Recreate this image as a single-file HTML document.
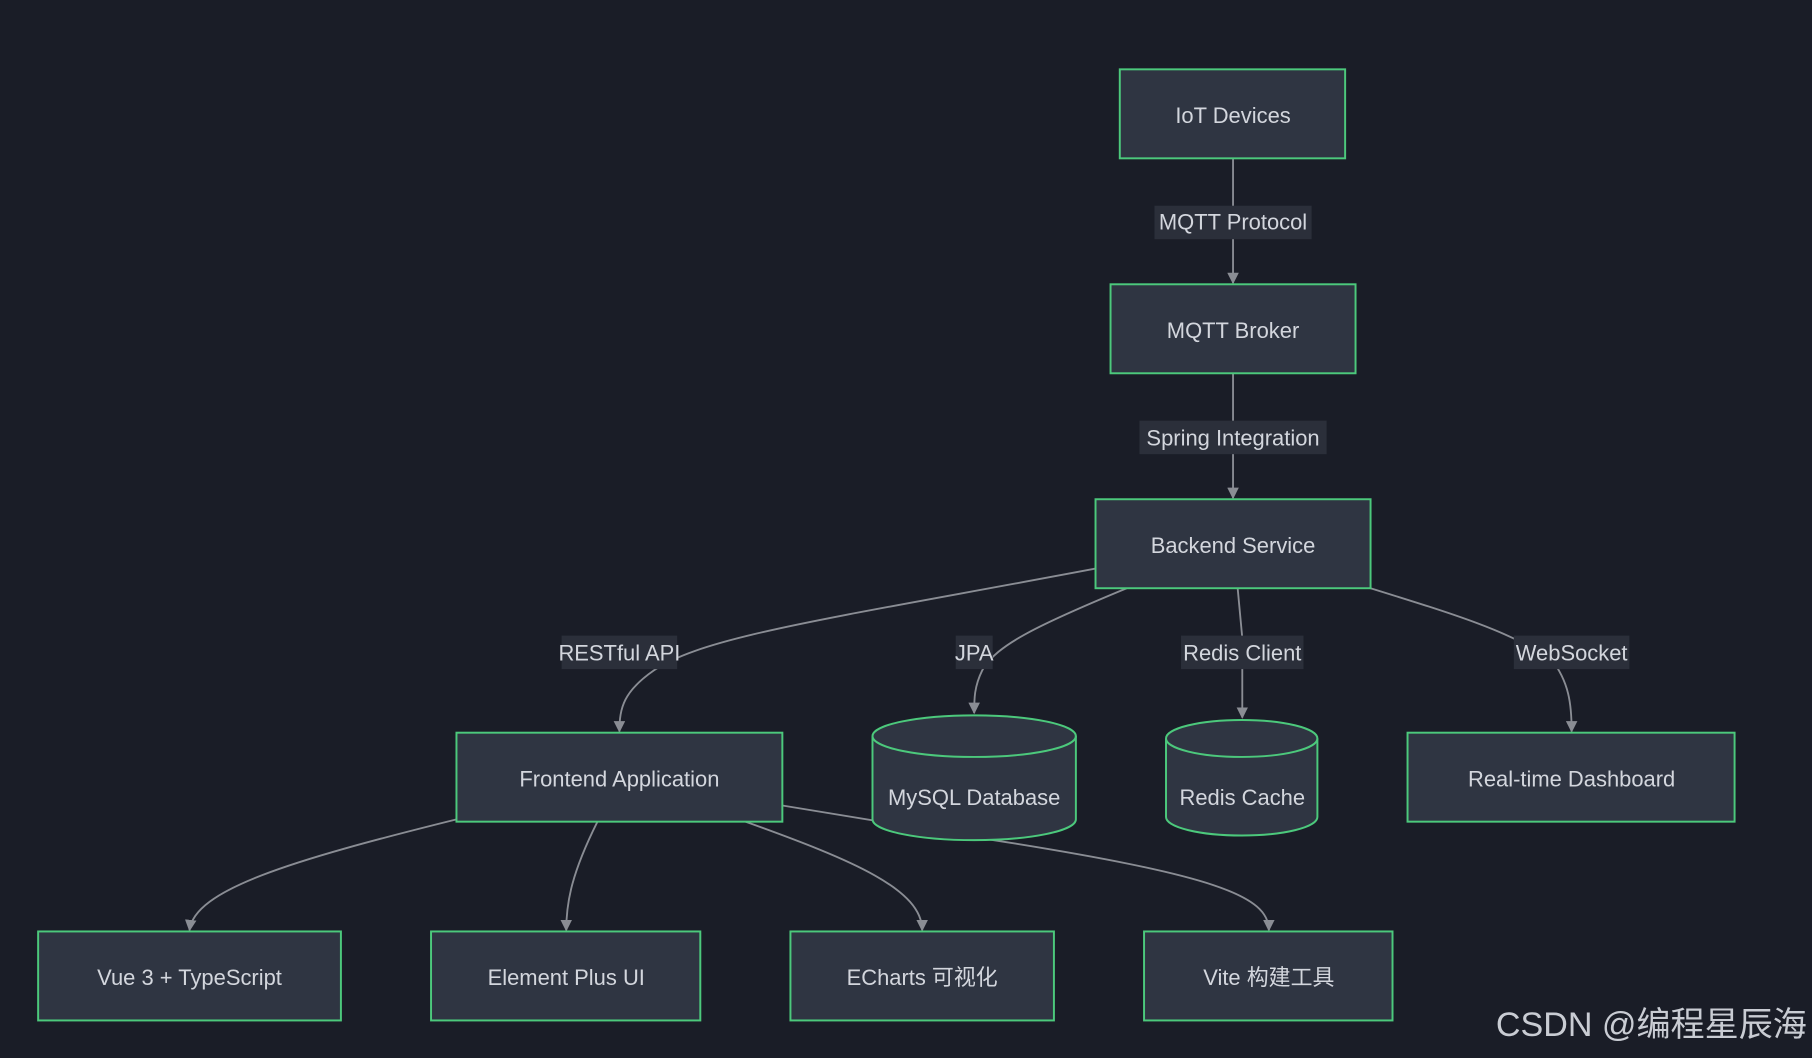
<!DOCTYPE html>
<html><head><meta charset="utf-8"><style>
html,body{margin:0;padding:0;background:#1a1d27;}
svg{display:block}
text{font-family:"Liberation Sans","Noto Sans CJK SC",sans-serif;fill:#d3d6dd;font-size:19px;text-anchor:middle;dominant-baseline:central}
.b{fill:#2f3542;stroke:#4cc97c;stroke-width:1.7}
.e{fill:none;stroke:#8a8d94;stroke-width:1.6}
.l{fill:#2b2f3a}
</style></head><body>
<svg width="1812" height="1058" viewBox="0 0 1568 915.5" preserveAspectRatio="none">
<defs><marker id="a" viewBox="0 0 10 10" refX="9" refY="5" markerWidth="10" markerHeight="10" markerUnits="userSpaceOnUse" orient="auto"><path d="M0,0 L10,5 L0,10z" fill="#8a8d94"/></marker></defs>
<rect width="1568" height="916" fill="#1a1d27"/>
<path class="e" d="M1067,137 L1067,245" marker-end="url(#a)"/>
<path class="e" d="M1067,323 L1067,431" marker-end="url(#a)"/>
<path class="e" d="M948,492 C720,535 610,550 566,580 C540,598 536,612 536,633" marker-end="url(#a)"/>
<path class="e" d="M975,509 C900,540 862,558 850,580 C843,594 843,605 843,617" marker-end="url(#a)"/>
<path class="e" d="M1071,509 L1075,552 L1075,621" marker-end="url(#a)"/>
<path class="e" d="M1186,509 C1260,532 1305,546 1342,570 C1358,590 1360,610 1360,633" marker-end="url(#a)"/>
<path class="e" d="M395,709 C250,745 168,770 164,805" marker-end="url(#a)"/>
<path class="e" d="M517,711 C495,755 490,780 490,805" marker-end="url(#a)"/>
<path class="e" d="M645,711 C740,745 798,770 798,805" marker-end="url(#a)"/>
<path class="e" d="M677,697 L860,727 C1050,757 1098,775 1098,805" marker-end="url(#a)"/>
<rect class="l" x="999" y="178" width="136" height="29"/><text x="1067" y="192">MQTT Protocol</text>
<rect class="l" x="986" y="364" width="162" height="29"/><text x="1067" y="379">Spring Integration</text>
<rect class="l" x="486" y="550" width="100" height="29"/><text x="536" y="565">RESTful API</text>
<rect class="l" x="827" y="550" width="32" height="29"/><text x="843" y="565">JPA</text>
<rect class="l" x="1022" y="550" width="106" height="29"/><text x="1075" y="565">Redis Client</text>
<rect class="l" x="1310" y="550" width="100" height="29"/><text x="1360" y="565">WebSocket</text>
<rect class="b" x="969" y="60" width="195" height="77"/><text x="1067" y="100">IoT Devices</text>
<rect class="b" x="961" y="246" width="212" height="77"/><text x="1067" y="286">MQTT Broker</text>
<rect class="b" x="948" y="432" width="238" height="77"/><text x="1067" y="472">Backend Service</text>
<rect class="b" x="395" y="634" width="282" height="77"/><text x="536" y="674">Frontend Application</text>
<path class="b" d="M755,637 A88,18 0 0 1 931,637 L931,709 A88,18 0 0 1 755,709 Z"/>
<path class="b" style="fill:none" d="M755,637 A88,18 0 0 0 931,637"/>
<text x="843" y="690">MySQL Database</text>
<path class="b" d="M1009,639 A65.5,16 0 0 1 1140,639 L1140,707 A65.5,16 0 0 1 1009,707 Z"/>
<path class="b" style="fill:none" d="M1009,639 A65.5,16 0 0 0 1140,639"/>
<text x="1075" y="690">Redis Cache</text>
<rect class="b" x="1218" y="634" width="283" height="77"/><text x="1360" y="674">Real-time Dashboard</text>
<rect class="b" x="33" y="806" width="262" height="77"/><text x="164" y="846">Vue 3 + TypeScript</text>
<rect class="b" x="373" y="806" width="233" height="77"/><text x="490" y="846">Element Plus UI</text>
<rect class="b" x="684" y="806" width="228" height="77"/><text x="798" y="846">ECharts 可视化</text>
<rect class="b" x="990" y="806" width="215" height="77"/><text x="1098" y="846">Vite 构建工具</text>
<text x="1429" y="887" style="font-size:29.5px;fill:#c9ccd3">CSDN @编程星辰海</text>
</svg>
</body></html>
